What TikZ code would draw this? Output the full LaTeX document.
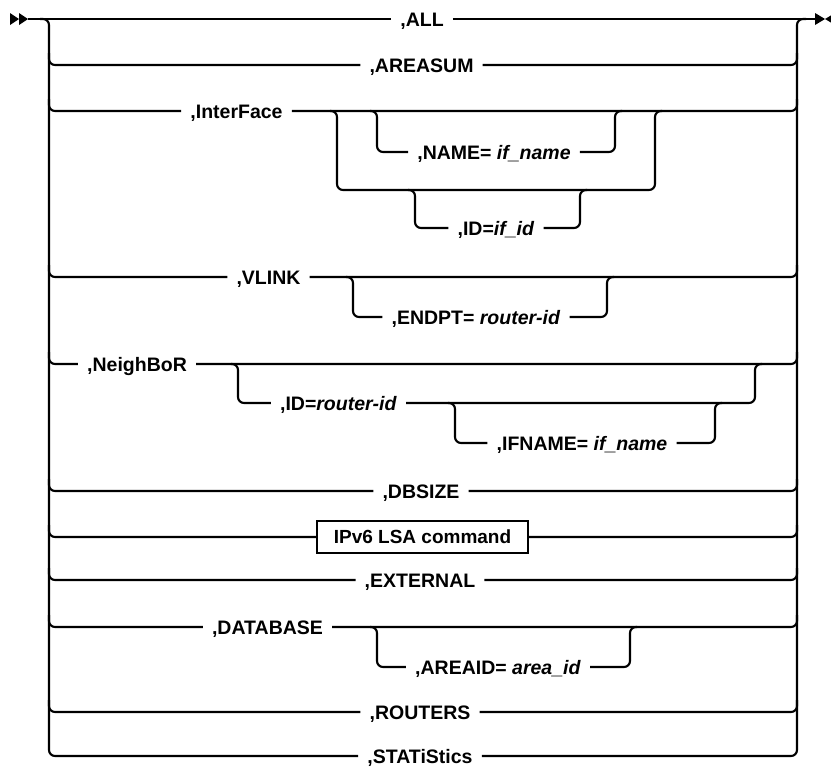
\documentclass[tikz,border=0pt]{standalone}
\usepackage{fontspec}
\setmainfont{Liberation Sans}
\begin{document}
\begin{tikzpicture}[x=1pt,y=-1pt]
\tikzset{
  rail/.style={draw=black, line width=2.1pt, rounded corners=6pt},
  kw/.style={inner xsep=9pt, inner ysep=0pt, text height=14pt, text depth=0pt,
             font=\fontsize{19.5}{22}\selectfont\bfseries},
  boxnode/.style={draw=black, line width=1.5pt, sharp corners, inner sep=0pt,
             minimum width=211pt, minimum height=32pt,
             font=\fontsize{19}{22}\selectfont\bfseries},
  tip/.style={fill=black, sharp corners}
}
\useasboundingbox (0,0) rectangle (831,769);
% labels
\node[kw] (all) at (422,19) {,ALL};
\node[kw] (areasum) at (421.5,65) {,AREASUM};
\node[kw] (iface) at (236.5,111) {,InterFace};
\node[kw] (name) at (494,152) {,NAME= \textit{if\_name}};
\node[kw] (ifid) at (496,228) {,ID=\textit{if\_id}};
\node[kw] (vlink) at (268.5,277) {,VLINK};
\node[kw] (endpt) at (476,317) {,ENDPT= \textit{router-id}};
\node[kw] (nbr) at (137,364) {,NeighBoR};
\node[kw] (rid) at (338.5,403) {,ID=\textit{router-id}};
\node[kw] (ifname) at (582,443) {,IFNAME= \textit{if\_name}};
\node[kw] (dbsize) at (421,491) {,DBSIZE};
\node[boxnode] (ipv6) at (422.5,537) {IPv6 LSA command};
\node[kw] (ext) at (420,580) {,EXTERNAL};
\node[kw] (db) at (267.5,627) {,DATABASE};
\node[kw] (areaid) at (498,667) {,AREAID= \textit{area\_id}};
\node[kw] (routers) at (420,712) {,ROUTERS};
\node[kw] (stats) at (420,756) {,STATiStics};
% terminal points
\coordinate (in) at (28,19);
\coordinate (out) at (816,19);
\coordinate (LT) at (49,19);
\coordinate (RT) at (797,19);
% start / end tips
\fill[tip] (10,13) -- (19,19) -- (10,25) -- cycle;
\fill[tip] (19,13) -- (28,19) -- (19,25) -- cycle;
\fill[tip] (815,13) -- (825,19) -- (815,25) -- cycle;
\fill[tip] (835,13) -- (825,19) -- (835,25) -- cycle;
% main line
\draw[rail] (in) -- (all.west);
\draw[rail] (all.east) -- (out);
% spines with last row
\draw[rail] (40,19) -- (LT) -- (49,756) -- (stats.west);
\draw[rail] (stats.east) -- (797,756) -- (RT) -- (806,19);
% rows
\foreach \n/\y in {areasum/65, iface/111, vlink/277, nbr/364, dbsize/491,
                   ipv6/537, ext/580, db/627, routers/712} {
  \draw[rail] (49,\y-12) -- (49,\y) -- (\n.west);
  \draw[rail] (\n.east) -- (797,\y) -- (797,\y-12);
}
% InterFace sub-block
\draw[rail] (330,111) -- (337,111) -- (337,190) -- (655,190) -- (655,111) -- (662,111);
\draw[rail] (370,111) -- (377,111) -- (377,152) -- (name.west);
\draw[rail] (name.east) -- (615,152) -- (615,111) -- (622,111);
\draw[rail] (408,190) -- (415,190) -- (415,228) -- (ifid.west);
\draw[rail] (ifid.east) -- (580,228) -- (580,190) -- (587,190);
% VLINK sub-block
\draw[rail] (346,277) -- (353,277) -- (353,317) -- (endpt.west);
\draw[rail] (endpt.east) -- (607,317) -- (607,277) -- (614,277);
% NeighBoR sub-blocks
\draw[rail] (231,364) -- (238,364) -- (238,403) -- (rid.west);
\draw[rail] (rid.east) -- (755,403) -- (755,364) -- (762,364);
\draw[rail] (448,403) -- (455,403) -- (455,443) -- (ifname.west);
\draw[rail] (ifname.east) -- (715,443) -- (715,403) -- (722,403);
% DATABASE sub-block
\draw[rail] (370,627) -- (377,627) -- (377,667) -- (areaid.west);
\draw[rail] (areaid.east) -- (630,667) -- (630,627) -- (637,627);
\end{tikzpicture}
\end{document}
